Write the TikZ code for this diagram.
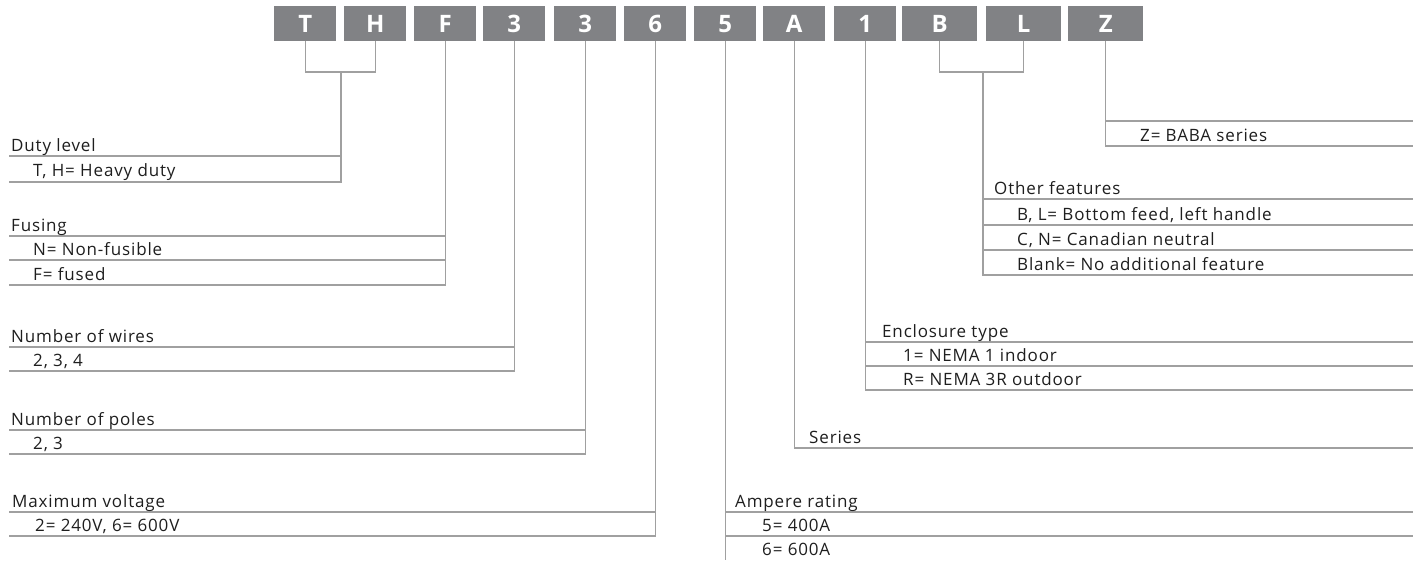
\documentclass[tikz,border=0pt]{standalone}
\usepackage{fontspec}
\setmainfont{Open Sans}
\newfontfamily\lblfont[LetterSpace=5]{Open Sans}
\definecolor{boxgray}{HTML}{818285}
\definecolor{linegray}{HTML}{A0A0A0}
\definecolor{txtcol}{HTML}{1E1E1E}
\tikzset{
  codebox/.style={fill=boxgray,text=white,font=\bfseries\fontsize{24}{24}\selectfont,
    minimum width=62pt,minimum height=35pt,inner sep=0pt,anchor=north west},
  widebox/.style={codebox,minimum width=75pt},
  ln/.style={draw=linegray,line width=1.3pt},
  lbl/.style={anchor=base west,inner sep=0pt,text=txtcol,font=\lblfont\fontsize{17}{17}\selectfont},
}
\begin{document}
\begin{tikzpicture}[x=1pt,y=-1pt]
\useasboundingbox (0,0) rectangle (1424,560);
% code boxes
\node[codebox] (bT) at (274,6) {T};
\node[codebox] (bH) at (344,6) {H};
\node[codebox] (bF) at (414,6) {F};
\node[codebox] (bW) at (483,6) {3};
\node[codebox] (bP) at (554,6) {3};
\node[codebox] (bV) at (624,6) {6};
\node[codebox] (bA5) at (694,6) {5};
\node[codebox] (bS) at (763,6) {A};
\node[codebox] (bE) at (834,6) {1};
\node[widebox] (bB) at (902,6) {B};
\node[widebox] (bL) at (986,6) {L};
\node[widebox] (bZ) at (1068,6) {Z};
% coordinates
\coordinate (thj) at (341,72);
\coordinate (blj) at (983,72);
% ---------- left side groups ----------
% Duty level
\draw[ln] (bT.south) -- (bT.south |- thj) -- (bH.south |- thj) -- (bH.south);
\draw[ln] (thj) -- (341,182) -- (9,182);
\draw[ln] (9,156) -- (341,156);
\node[lbl] (dutyT) at (11,151) {Duty level};
\node[lbl] (dutyI) at (33,176) {T, H= Heavy duty};
% Fusing
\draw[ln] (bF.south) -- (bF.south |- 0,285) -- (9,285);
\draw[ln] (9,236) -- (bF.south |- 0,236);
\draw[ln] (9,260) -- (bF.south |- 0,260);
\node[lbl] (fusT) at (11,231) {Fusing};
\node[lbl] (fusI1) at (33,255) {N= Non-fusible};
\node[lbl] (fusI2) at (33,280) {F= fused};
% Number of wires
\draw[ln] (bW.south) -- (bW.south |- 0,371) -- (9,371);
\draw[ln] (9,347) -- (bW.south |- 0,347);
\node[lbl] (wirT) at (11,342) {Number of wires};
\node[lbl] (wirI) at (33,366) {2, 3, 4};
% Number of poles
\draw[ln] (bP.south) -- (bP.south |- 0,454) -- (9,454);
\draw[ln] (9,430) -- (bP.south |- 0,430);
\node[lbl] (polT) at (11,425) {Number of poles};
\node[lbl] (polI) at (33,449) {2, 3};
% Maximum voltage
\draw[ln] (bV.south) -- (bV.south |- 0,536) -- (9,536);
\draw[ln] (9,512) -- (bV.south |- 0,512);
\node[lbl] (volT) at (12,507) {Maximum voltage};
\node[lbl] (volI) at (35,531) {2= 240V, 6= 600V};
% ---------- right side groups ----------
% Z
\draw[ln] (bZ.south) -- (bZ.south |- 0,146) -- (1413,146);
\draw[ln] (bZ.south |- 0,121) -- (1413,121);
\node[lbl] (zI) at (1140,141) {Z= BABA series};
% Other features
\draw[ln] (bB.south) -- (bB.south |- blj) -- (bL.south |- blj) -- (bL.south);
\draw[ln] (blj) -- (983,275) -- (1413,275);
\draw[ln] (983,199) -- (1413,199);
\draw[ln] (983,225) -- (1413,225);
\draw[ln] (983,250) -- (1413,250);
\node[lbl] (othT) at (994,194) {Other features};
\node[lbl] (othI1) at (1017,220) {B, L= Bottom feed, left handle};
\node[lbl] (othI2) at (1017,245) {C, N= Canadian neutral};
\node[lbl] (othI3) at (1017,270) {Blank= No additional feature};
% Enclosure type
\draw[ln] (bE.south) -- (bE.south |- 0,390) -- (1413,390);
\draw[ln] (bE.south |- 0,342) -- (1413,342);
\draw[ln] (bE.south |- 0,366) -- (1413,366);
\node[lbl] (encT) at (882,337) {Enclosure type};
\node[lbl] (encI1) at (903,361) {1= NEMA 1 indoor};
\node[lbl] (encI2) at (903,385) {R= NEMA 3R outdoor};
% Series
\draw[ln] (bS.south) -- (bS.south |- 0,448) -- (1413,448);
\node[lbl] (serT) at (809,443) {Series};
% Ampere rating
\draw[ln] (bA5.south) -- (bA5.south |- 0,560);
\draw[ln] (bA5.south |- 0,512) -- (1413,512);
\draw[ln] (bA5.south |- 0,536) -- (1413,536);
\node[lbl] (ampT) at (735,507) {Ampere rating};
\node[lbl] (ampI1) at (762,531) {5= 400A};
\node[lbl] (ampI2) at (762,555) {6= 600A};
\end{tikzpicture}
\end{document}
